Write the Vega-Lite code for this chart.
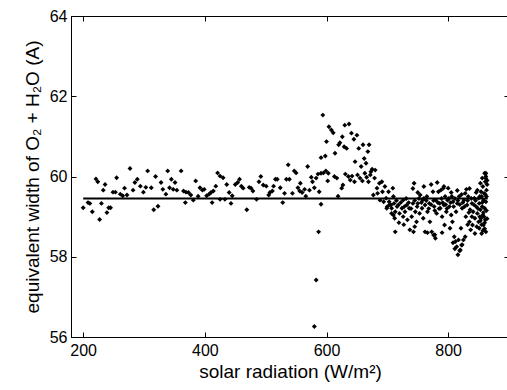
{
  "$schema": "https://vega.github.io/schema/vega-lite/v6.json",
  "width": 438,
  "height": 321,
  "autosize": "none",
  "padding": {"left": 71, "top": 16, "right": 0, "bottom": 53},
  "background": "white",
  "config": {
    "view": {"stroke": "black", "strokeWidth": 1},
    "axis": {
      "grid": false,
      "domainColor": "black",
      "tickColor": "black",
      "labelColor": "black",
      "titleColor": "black",
      "labelFont": "Liberation Sans",
      "titleFont": "Liberation Sans",
      "labelFontSize": 16,
      "titleFontSize": 19,
      "titleFontWeight": "normal",
      "tickSize": -5
    }
  },
  "layer": [
    {
      "data": {"values": [
        {"r":200,"w":59.22},{"r":208,"w":59.35},{"r":211,"w":59.33},{"r":215,"w":59.12},{"r":221,"w":59.94},{"r":224,"w":59.87},{"r":227,"w":58.93},{"r":230,"w":59.33},{"r":233,"w":59.66},{"r":236,"w":59.80},{"r":239,"w":59.10},{"r":242,"w":59.22},{"r":245,"w":59.22},{"r":249,"w":59.61},{"r":253,"w":59.61},{"r":255,"w":59.97},{"r":261,"w":59.56},{"r":265,"w":59.52},{"r":268,"w":59.71},{"r":272,"w":59.54},{"r":277,"w":60.20},{"r":282,"w":59.66},{"r":285,"w":59.85},{"r":289,"w":59.93},{"r":294,"w":59.76},{"r":299,"w":59.61},{"r":303,"w":59.73},{"r":306,"w":60.14},{"r":312,"w":59.72},{"r":316,"w":59.17},{"r":319,"w":60.00},{"r":323,"w":59.26},{"r":328,"w":59.85},{"r":331,"w":59.68},{"r":336,"w":59.56},{"r":339,"w":60.14},{"r":342,"w":59.72},{"r":345,"w":59.93},{"r":348,"w":59.68},{"r":351,"w":59.85},{"r":354,"w":59.66},{"r":361,"w":60.14},{"r":365,"w":59.64},{"r":368,"w":59.35},
        {"r":369,"w":59.61},{"r":373,"w":59.60},{"r":377,"w":59.54},{"r":381,"w":59.41},{"r":385,"w":59.89},{"r":389,"w":59.51},{"r":392,"w":59.72},{"r":396,"w":59.66},{"r":399,"w":59.68},{"r":403,"w":59.52},{"r":407,"w":59.56},{"r":410,"w":59.60},{"r":412,"w":59.35},{"r":414,"w":59.64},{"r":418,"w":59.76},{"r":421,"w":60.09},{"r":425,"w":60.01},{"r":430,"w":59.97},{"r":425,"w":59.43},{"r":433,"w":59.43},{"r":436,"w":59.80},{"r":440,"w":59.60},{"r":443,"w":59.33},{"r":445,"w":59.52},{"r":450,"w":59.80},{"r":454,"w":59.85},{"r":457,"w":59.93},{"r":460,"w":59.76},{"r":463,"w":59.71},{"r":469,"w":59.17},{"r":473,"w":59.73},{"r":476,"w":59.71},{"r":479,"w":59.64},{"r":485,"w":59.43},{"r":489,"w":59.87},{"r":492,"w":60.00},{"r":496,"w":59.79},{"r":501,"w":59.76},{"r":505,"w":59.54},{"r":507,"w":59.60},{"r":511,"w":59.64},{"r":513,"w":59.76},{"r":516,"w":59.93},{"r":519,"w":59.93},{"r":524,"w":59.72},{"r":528,"w":59.35},{"r":531,"w":59.58},{"r":534,"w":59.93},{"r":537,"w":60.29},{"r":539,"w":59.93},
        {"r":544,"w":59.58},{"r":547,"w":60.14},{"r":550,"w":60.09},{"r":553,"w":59.72},{"r":557,"w":59.83},{"r":556,"w":59.64},{"r":560,"w":59.60},{"r":564,"w":59.68},{"r":566,"w":59.51},{"r":569,"w":60.25},{"r":572,"w":59.66},{"r":575,"w":59.98},{"r":577,"w":59.87},{"r":580,"w":59.72},{"r":583,"w":59.96},{"r":586,"w":60.06},{"r":588,"w":59.62},{"r":591,"w":59.31},{"r":591,"w":60.08},{"r":591,"w":60.47},{"r":594,"w":61.53},{"r":595,"w":60.09},{"r":598,"w":60.51},{"r":599,"w":60.14},{"r":600,"w":60.87},{"r":602,"w":59.89},{"r":603,"w":60.08},{"r":604,"w":61.24},{"r":608,"w":61.16},{"r":611,"w":61.09},{"r":613,"w":60.00},{"r":614,"w":60.58},{"r":617,"w":59.96},{"r":619,"w":59.51},{"r":620,"w":60.79},{"r":622,"w":60.84},{"r":625,"w":59.71},{"r":626,"w":60.99},{"r":627,"w":59.79},{"r":629,"w":60.74},{"r":630,"w":61.28},{"r":631,"w":60.06},{"r":633,"w":60.70},{"r":636,"w":60.00},{"r":637,"w":61.31},{"r":639,"w":59.91},{"r":641,"w":61.08},{"r":642,"w":60.01},{"r":645,"w":60.93},{"r":647,"w":60.37},{"r":646,"w":59.87},{"r":650,"w":61.03},{"r":651,"w":60.04},{"r":653,"w":60.70},{"r":655,"w":59.96},{"r":657,"w":60.25},{"r":659,"w":59.89},{"r":660,"w":60.79},{"r":662,"w":60.45},{"r":663,"w":60.08},{"r":665,"w":60.33},{"r":666,"w":59.98},{"r":668,"w":60.62},{"r":669,"w":59.87},{"r":670,"w":60.79},{"r":672,"w":60.04},{"r":673,"w":60.12},{"r":675,"w":60.18},{"r":677,"w":59.54},{"r":679,"w":59.96},{"r":680,"w":60.16},{"r":683,"w":59.71},{"r":684,"w":59.58},{"r":687,"w":59.83},{"r":688,"w":59.41},{"r":691,"w":59.87},{"r":692,"w":59.62},{"r":694,"w":59.37},{"r":696,"w":59.75},{"r":698,"w":59.46},{"r":699,"w":59.21},{"r":702,"w":59.62},{"r":703,"w":59.37},{"r":706,"w":59.29},{"r":707,"w":59.08},{"r":710,"w":59.50},{"r":712,"w":58.96},
        {"r":587,"w":58.62},{"r":583,"w":57.42},{"r":580,"w":56.26},
        {"r":709,"w":59.71},{"r":711,"w":59.33},{"r":707,"w":59.21},{"r":713,"w":59.12},{"r":710,"w":59.04},{"r":716,"w":59.25},{"r":718,"w":59.29},{"r":720,"w":59.08},{"r":713,"w":58.62},{"r":724,"w":59.21},{"r":726,"w":59.41},{"r":726,"w":59.00},{"r":729,"w":59.12},{"r":732,"w":59.29},{"r":733,"w":58.92},{"r":736,"w":59.21},{"r":737,"w":58.67},{"r":740,"w":59.00},{"r":742,"w":59.33},{"r":743,"w":58.62},{"r":744,"w":59.83},{"r":746,"w":59.12},{"r":748,"w":58.87},{"r":750,"w":59.33},{"r":753,"w":59.08},{"r":754,"w":59.54},{"r":757,"w":59.21},{"r":758,"w":59.41},{"r":759,"w":58.96},{"r":762,"w":59.29},{"r":762,"w":58.62},{"r":765,"w":59.50},{"r":766,"w":59.12},{"r":769,"w":59.33},{"r":770,"w":58.87},{"r":773,"w":58.62},{"r":775,"w":59.62},{"r":776,"w":58.54},{"r":777,"w":59.25},{"r":779,"w":58.46},{"r":780,"w":59.41},{"r":781,"w":59.08},{"r":784,"w":59.62},{"r":786,"w":59.33},{"r":787,"w":59.21},{"r":788,"w":59.66},{"r":790,"w":59.00},{"r":792,"w":59.71},{"r":793,"w":59.29},{"r":794,"w":58.79},{"r":795,"w":59.50},{"r":797,"w":59.12},{"r":799,"w":59.41},{"r":800,"w":59.71},{"r":802,"w":59.25},{"r":803,"w":58.71},{"r":805,"w":59.04},{"r":806,"w":59.50},{"r":807,"w":58.87},{"r":808,"w":59.37},{"r":810,"w":58.50},{"r":812,"w":58.38},{"r":813,"w":59.12},{"r":814,"w":58.25},{"r":815,"w":59.33},{"r":817,"w":58.42},{"r":818,"w":59.50},{"r":820,"w":58.17},{"r":821,"w":58.71},{"r":822,"w":58.29},{"r":823,"w":59.21},{"r":825,"w":58.42},{"r":826,"w":59.41},{"r":828,"w":59.58},{"r":829,"w":59.00},{"r":830,"w":59.68},{"r":831,"w":59.29},{"r":833,"w":59.50},{"r":835,"w":58.87},{"r":836,"w":59.17},{"r":837,"w":58.67},{"r":839,"w":59.33},{"r":839,"w":59.00},{"r":840,"w":58.79},{"r":841,"w":59.12},{"r":843,"w":59.46},{"r":844,"w":58.58},{"r":844,"w":58.96},{"r":846,"w":59.25},{"r":847,"w":58.75},{"r":848,"w":59.66},{"r":848,"w":59.08},{"r":850,"w":59.46},{"r":850,"w":58.87},{"r":851,"w":58.71},{"r":851,"w":59.33},{"r":853,"w":59.83},{"r":853,"w":59.17},{"r":854,"w":59.62},{"r":854,"w":58.96},{"r":855,"w":59.50},{"r":855,"w":58.58},{"r":856,"w":59.96},{"r":856,"w":59.25},{"r":857,"w":59.75},{"r":857,"w":59.04},{"r":858,"w":59.41},{"r":858,"w":58.79},{"r":859,"w":59.58},{"r":860,"w":59.21},{"r":861,"w":59.87},{"r":862,"w":60.08},{"r":862,"w":59.37},{"r":863,"w":59.66},{"r":861,"w":58.92},{"r":863,"w":59.50},{"r":862,"w":58.62},
        {"r":704,"w":59.30},{"r":715,"w":59.40},{"r":722,"w":59.35},{"r":728,"w":59.25},{"r":731,"w":59.45},{"r":735,"w":59.35},{"r":739,"w":59.20},{"r":745,"w":59.40},{"r":749,"w":59.25},{"r":752,"w":59.45},{"r":756,"w":59.35},{"r":760,"w":59.45},{"r":764,"w":59.40},{"r":768,"w":59.20},{"r":772,"w":59.30},{"r":776,"w":59.40},{"r":778,"w":59.15},{"r":783,"w":59.35},{"r":785,"w":59.20},{"r":789,"w":59.45},{"r":791,"w":59.35},{"r":796,"w":59.30},{"r":798,"w":59.20},{"r":801,"w":59.45},{"r":804,"w":59.35},{"r":809,"w":59.25},{"r":811,"w":59.45},{"r":816,"w":59.40},{"r":819,"w":59.30},{"r":824,"w":59.35},{"r":827,"w":59.25},{"r":832,"w":59.40},{"r":834,"w":59.10},{"r":838,"w":59.45},{"r":842,"w":59.30},{"r":845,"w":59.40},{"r":849,"w":59.20},{"r":852,"w":59.50},{"r":856,"w":59.35},{"r":858,"w":59.10},{"r":860,"w":58.70},{"r":861,"w":59.55},{"r":863,"w":59.15},{"r":864,"w":59.80},{"r":862,"w":59.95},{"r":860,"w":58.85},{"r":857,"w":58.65},{"r":855,"w":58.80},{"r":853,"w":58.90},{"r":852,"w":59.00},{"r":859,"w":59.00},{"r":864,"w":58.95},{"r":700,"w":59.25},{"r":719,"w":58.85},{"r":727,"w":58.80},{"r":745,"w":58.75},{"r":766,"w":58.60},{"r":778,"w":58.55},{"r":790,"w":58.60},{"r":808,"w":58.35},{"r":811,"w":58.20},{"r":816,"w":58.05},{"r":819,"w":58.15},{"r":823,"w":58.30},{"r":828,"w":58.50},{"r":832,"w":58.80},{"r":742,"w":59.70},{"r":750,"w":59.60},{"r":760,"w":59.75},{"r":772,"w":59.80},{"r":782,"w":59.85},{"r":793,"w":59.75},{"r":805,"w":59.60},{"r":815,"w":59.65},{"r":822,"w":59.55},{"r":835,"w":59.70},{"r":846,"w":59.60},{"r":860,"w":60.08},{"r":862,"w":60.00},{"r":864,"w":59.90}
      ]},
      "mark": {"type": "point", "shape": "diamond", "filled": true, "color": "black", "size": 24, "opacity": 1},
      "encoding": {
        "x": {"field": "r", "type": "quantitative",
          "scale": {"domain": [180, 900], "nice": false, "zero": false},
          "axis": {"title": "solar radiation (W/m²)", "values": [200, 400, 600, 800], "labelPadding": 10, "titlePadding": 4}},
        "y": {"field": "w", "type": "quantitative",
          "scale": {"domain": [56, 64], "nice": false, "zero": false},
          "axis": {"title": "equivalent width of O₂ + H₂O (A)", "values": [56, 58, 60, 62, 64], "labelPadding": 9, "titlePadding": 7}}
      }
    },
    {
      "data": {"values": [{"x1": 200, "x2": 865, "y": 59.45}]},
      "mark": {"type": "rule", "color": "black", "strokeWidth": 2},
      "encoding": {
        "x": {"field": "x1", "type": "quantitative",
          "axis": {"orient": "top", "labels": false, "title": null, "values": [200, 400, 600, 800]}},
        "x2": {"field": "x2"},
        "y": {"field": "y", "type": "quantitative",
          "axis": {"orient": "right", "labels": false, "title": null, "values": [56, 58, 60, 62, 64]}}
      }
    }
  ],
  "resolve": {"axis": {"x": "independent", "y": "independent"}}
}
